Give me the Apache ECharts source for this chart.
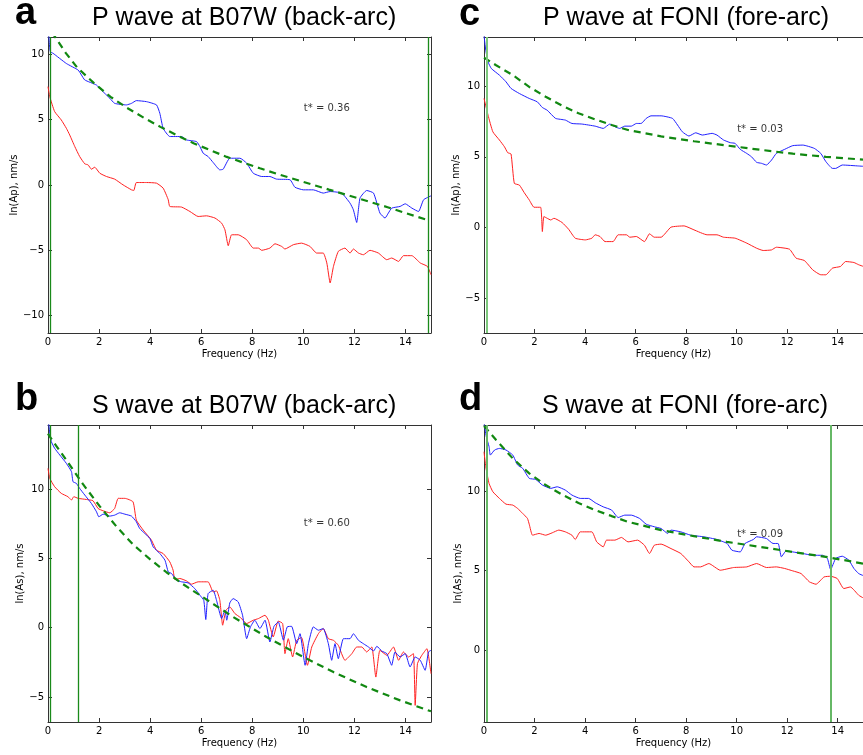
<!DOCTYPE html>
<html>
<head>
<meta charset="utf-8">
<script src="https://cdn.jsdelivr.net/npm/echarts@6/dist/echarts.min.js"></script>
<style>
html,body{margin:0;padding:0;background:#fff;}
#chart{width:863px;height:755px;}
</style>
</head>
<body>
<div id="chart"></div>
<script>
// ---------- DATA ----------
const xTicks = [0, 2, 4, 6, 8, 10, 12, 14];
const yTicksA = [-10, -5, 0, 5, 10];
const yTicksB = [-5, 0, 5, 10];
const yTicksC = [-5, 0, 5, 10];
const yTicksD = [0, 5, 10];

const titles = ['P wave at B07W (back-arc)', 'P wave at FONI (fore-arc)', 'S wave at B07W (back-arc)', 'S wave at FONI (fore-arc)'];
const letters = ['a', 'c', 'b', 'd'];
const yNames = ['ln(Ap), nm/s', 'ln(Ap), nm/s', 'ln(As), nm/s', 'ln(As), nm/s'];
const tstarText = ['t* = 0.36', 't* = 0.03', 't* = 0.60', 't* = 0.09'];
const tstarPos = [[10, 5.9], [10, 6.96], [10, 7.52], [10, 7.28]];
const vLinesA = [0.1, 14.9];
const vLinesC = [0.1];
const vLinesB = [0.1, 1.18];
const vLinesD = [0.1, 13.73];

// Panel a: P wave at B07W
const aBlue = [[0,12.5],[0.05,10.9],[0.09,10.2],[0.2,10.08],[0.72,9.3],[1.18,8.8],[1.31,8.42],[1.44,8.04],[1.9,7.65],[2.09,7.27],[2.42,6.64],[2.61,6.25],[3.07,6.13],[3.27,6.25],[3.46,6.46],[3.86,6.38],[4.25,6.13],[4.38,5.49],[4.51,4.34],[4.77,3.71],[5.23,3.71],[5.42,3.45],[5.82,3.32],[5.95,2.94],[6.08,2.43],[6.27,2.18],[6.47,1.72],[6.73,1.16],[6.86,1.21],[7.12,2.05],[7.52,2.05],[7.78,1.67],[8.04,0.9],[8.37,0.65],[8.69,0.65],[8.95,0.45],[9.48,0.4],[9.67,-0.17],[10.0,-0.37],[10.39,-0.37],[10.78,-0.62],[11.05,-0.5],[11.5,-0.62],[11.83,-1.39],[11.96,-1.9],[12.09,-2.87],[12.22,-1.0],[12.48,-0.42],[12.75,-0.62],[13.0,-2.15],[13.2,-2.53],[13.33,-2.15],[13.46,-1.77],[13.79,-1.64],[13.99,-1.44],[14.25,-1.77],[14.51,-2.03],[14.71,-1.13],[15.0,-0.83]];
const aRed = [[0,7.53],[0.07,6.76],[0.26,5.62],[0.52,4.98],[0.72,4.34],[0.85,3.83],[1.05,2.94],[1.24,2.18],[1.44,1.62],[1.57,1.54],[1.7,1.21],[1.83,1.36],[2.03,0.9],[2.29,0.65],[2.61,0.45],[2.94,0.01],[3.27,-0.37],[3.36,-0.42],[3.46,0.19],[3.86,0.19],[4.25,0.14],[4.51,-0.24],[4.71,-1.13],[4.77,-1.64],[5.23,-1.69],[5.56,-2.03],[5.88,-2.41],[6.21,-2.36],[6.54,-2.53],[6.8,-2.92],[6.93,-3.43],[7.06,-4.65],[7.19,-3.81],[7.45,-3.81],[7.78,-4.19],[8.04,-4.83],[8.24,-4.83],[8.37,-5.0],[8.69,-4.83],[8.89,-4.5],[9.15,-4.7],[9.28,-4.9],[9.61,-4.57],[9.93,-4.45],[10.26,-4.7],[10.52,-5.21],[10.78,-5.21],[10.92,-5.97],[11.05,-7.5],[11.18,-6.23],[11.37,-5.08],[11.63,-4.83],[11.83,-5.21],[11.96,-4.9],[12.16,-5.21],[12.35,-5.34],[12.61,-5.0],[12.94,-5.21],[13.27,-5.72],[13.46,-5.59],[13.73,-5.85],[13.92,-5.41],[14.25,-5.41],[14.58,-5.97],[14.86,-6.23],[15.0,-6.87]];
const aFit = [[0.15,11.7],[0.29,11.3],[0.7,10.1],[1.14,9.0],[1.8,7.8],[2.45,6.75],[3.1,5.9],[3.75,5.15],[4.4,4.45],[5.06,3.8],[5.7,3.2],[6.37,2.65],[7.0,2.15],[7.67,1.7],[8.3,1.28],[9.0,0.83],[9.98,0.25],[11.0,-0.35],[11.8,-0.82],[12.59,-1.28],[13.3,-1.7],[14.0,-2.15],[14.94,-2.72]];

// Panel c: P wave at FONI
const cBlue = [[0,13.6],[0.07,12.54],[0.16,11.72],[0.29,11.25],[0.61,10.78],[0.87,10.31],[1.07,9.84],[1.4,9.48],[1.79,9.13],[2.11,8.89],[2.31,8.49],[2.5,8.3],[2.83,7.72],[3.22,7.6],[3.48,7.36],[3.87,7.32],[4.4,7.17],[4.72,7.01],[4.98,7.32],[5.18,7.13],[5.37,7.01],[5.57,7.17],[5.83,7.17],[6.03,7.36],[6.22,7.36],[6.42,7.72],[6.61,7.9],[7.01,7.9],[7.46,7.72],[7.66,7.25],[7.85,6.77],[8.11,6.47],[8.38,6.7],[8.64,6.54],[9.03,6.66],[9.22,6.54],[9.48,6.19],[9.75,6.0],[9.94,5.95],[10.14,5.53],[10.4,5.24],[10.59,5.0],[10.79,4.61],[10.98,4.54],[11.18,4.42],[11.38,4.77],[11.57,5.24],[11.9,5.53],[12.22,5.79],[12.62,5.83],[13.07,5.6],[13.33,5.24],[13.53,4.66],[13.79,4.18],[13.92,4.18],[14.18,4.42],[14.83,4.35],[15,4.33]];
const cRed = [[0,9.13],[0.16,7.95],[0.35,6.77],[0.61,6.19],[0.81,5.71],[0.94,5.29],[1.07,5.2],[1.2,3.12],[1.4,3.0],[1.59,2.47],[1.79,1.95],[1.98,1.43],[2.24,1.43],[2.31,-0.29],[2.37,0.77],[2.5,0.65],[2.64,0.53],[2.77,0.65],[3.09,0.35],[3.35,-0.13],[3.61,-0.76],[4.01,-0.88],[4.27,-0.76],[4.4,-0.52],[4.59,-0.64],[4.79,-1.0],[5.11,-1.0],[5.31,-0.52],[5.64,-0.52],[5.77,-0.69],[6.03,-0.64],[6.35,-1.0],[6.55,-0.45],[6.74,-0.69],[7.01,-0.69],[7.4,0.02],[7.92,0.11],[8.31,-0.17],[8.83,-0.52],[9.22,-0.52],[9.48,-0.69],[9.94,-0.76],[10.4,-1.11],[10.79,-1.47],[11.05,-1.63],[11.38,-1.59],[11.57,-1.4],[12.09,-1.54],[12.35,-2.17],[12.68,-2.34],[13.01,-3.0],[13.33,-3.35],[13.53,-3.35],[13.79,-2.88],[14.11,-2.76],[14.31,-2.41],[14.64,-2.48],[14.83,-2.64],[15,-2.75]];
const cFit = [[0,12.02],[0.48,11.48],[1.14,10.78],[1.79,9.95],[2.44,9.25],[3.09,8.62],[3.74,8.08],[4.4,7.65],[5.05,7.25],[5.7,6.9],[7.01,6.45],[8.31,6.1],[9.61,5.8],[10.92,5.5],[12.22,5.22],[13.53,5.0],[15,4.8]];

// Panel b: S wave at B07W
const bBlue = [[0,15.2],[0.07,14.02],[0.13,13.42],[0.26,12.94],[0.46,12.46],[0.72,11.85],[0.92,11.25],[0.98,10.53],[1.11,10.41],[1.24,10.05],[1.44,9.57],[1.7,8.96],[1.9,8.36],[1.99,8.0],[2.16,8.19],[2.42,8.05],[2.61,8.12],[2.81,8.29],[3.01,8.19],[3.27,8.05],[3.46,7.64],[3.59,7.16],[3.79,6.8],[3.99,6.44],[4.12,5.83],[4.38,5.35],[4.58,4.87],[4.71,4.03],[4.84,3.91],[5.03,3.43],[5.23,3.31],[5.49,3.23],[5.75,2.82],[5.95,2.34],[6.1,1.98],[6.18,0.59],[6.27,2.46],[6.47,2.7],[6.6,1.98],[6.8,0.66],[6.93,1.26],[7.0,0.54],[7.12,1.79],[7.25,2.1],[7.45,1.86],[7.62,0.9],[7.78,-0.79],[7.93,0.06],[8.1,0.54],[8.3,-0.06],[8.5,0.54],[8.69,-1.03],[8.85,0.1],[9.02,0.42],[9.22,-0.9],[9.37,0.06],[9.54,0.1],[9.74,-1.15],[9.87,-0.43],[10.07,-2.71],[10.2,-1.15],[10.39,0.06],[10.59,-0.18],[10.78,-0.06],[10.98,-1.15],[11.11,-2.35],[11.24,-1.15],[11.37,-2.23],[11.57,-0.79],[11.83,-0.79],[11.96,-0.43],[12.16,-0.91],[12.35,-1.15],[12.55,-1.39],[12.75,-1.68],[12.88,-1.34],[13.07,-1.68],[13.27,-1.87],[13.46,-2.71],[13.59,-1.75],[13.79,-2.11],[13.99,-1.87],[14.18,-2.83],[14.38,-2.11],[14.58,-2.35],[14.77,-3.07],[14.9,-1.75],[15.0,-1.63]];
const bRed = [[0,11.49],[0.07,10.77],[0.26,10.17],[0.52,9.69],[0.78,9.45],[0.92,9.21],[1.01,9.45],[1.18,9.33],[1.5,9.25],[1.76,9.16],[1.96,8.6],[2.16,8.43],[2.42,8.29],[2.61,8.6],[2.75,9.33],[3.01,9.33],[3.33,9.08],[3.46,7.76],[3.73,7.04],[4.05,6.32],[4.25,5.59],[4.51,5.35],[4.77,4.75],[4.9,4.15],[4.97,3.47],[5.16,3.55],[5.42,3.38],[5.62,3.14],[5.88,3.31],[6.27,3.31],[6.47,2.58],[6.6,2.66],[6.73,1.98],[6.84,0.18],[6.97,1.26],[7.12,1.5],[7.32,1.02],[7.54,0.73],[7.78,0.3],[8.04,0.54],[8.24,0.66],[8.5,0.9],[8.63,0.54],[8.82,-0.67],[9.02,0.48],[9.19,0.3],[9.28,-1.87],[9.41,-0.79],[9.58,-2.11],[9.74,-0.91],[9.93,-0.71],[10.16,-2.71],[10.33,-1.39],[10.59,-0.43],[10.78,-0.06],[10.98,-0.79],[11.18,-0.91],[11.37,-1.27],[11.63,-2.35],[11.9,-1.87],[12.09,-1.39],[12.29,-1.39],[12.48,-1.75],[12.68,-1.39],[12.84,-3.56],[13.0,-1.63],[13.27,-1.99],[13.53,-1.39],[13.73,-2.35],[13.92,-1.75],[14.12,-2.11],[14.31,-1.87],[14.38,-5.6],[14.47,-2.59],[14.64,-1.99],[14.84,-1.51],[15.0,-3.32]];
const bFit = [[0,14.0],[0.07,13.78],[0.72,12.09],[1.37,10.35],[2.03,8.75],[2.68,7.3],[3.33,6.0],[3.99,4.95],[4.64,4.0],[5.29,3.14],[5.95,2.34],[7.25,0.78],[8.56,-0.67],[9.87,-1.99],[11.18,-3.2],[12.48,-4.28],[13.79,-5.24],[15,-6.03]];

// Panel d: S wave at FONI
const dBlue = [[0,14.3],[0.09,13.42],[0.2,12.79],[0.25,12.26],[0.42,12.58],[0.61,12.68],[0.87,12.58],[1.14,12.26],[1.33,11.64],[1.53,11.43],[1.79,10.8],[2.05,10.73],[2.31,10.38],[2.64,10.17],[2.9,10.27],[3.22,10.06],[3.48,9.75],[3.81,9.54],[4.14,9.54],[4.4,9.27],[4.72,9.01],[5.05,8.81],[5.31,8.34],[5.57,8.49],[5.83,8.49],[6.16,8.28],[6.42,7.92],[6.74,7.76],[7.01,7.65],[7.27,7.34],[7.4,7.55],[7.79,7.44],[8.18,7.23],[8.7,7.13],[9.22,6.96],[9.62,6.71],[9.81,6.29],[10.14,6.18],[10.33,6.71],[10.66,6.96],[10.79,7.13],[11.18,7.02],[11.44,6.71],[11.64,6.71],[11.77,5.87],[11.96,6.25],[12.22,6.18],[12.62,6.08],[13.01,5.97],[13.4,5.97],[13.59,5.77],[13.72,5.07],[13.92,5.77],[14.18,5.91],[14.44,5.66],[14.64,5.14],[14.83,4.82],[15,4.7]];
const dRed = [[0,12.47],[0.07,11.53],[0.2,10.48],[0.35,9.96],[0.61,9.54],[0.87,9.18],[1.14,9.12],[1.33,8.91],[1.53,8.6],[1.72,8.28],[1.79,7.92],[1.92,7.23],[2.18,7.34],[2.44,7.23],[2.7,7.38],[2.96,7.55],[3.22,7.44],[3.48,7.23],[3.61,6.96],[3.81,7.44],[4.27,7.44],[4.46,6.81],[4.72,6.5],[4.85,6.92],[5.18,6.92],[5.44,7.09],[5.7,6.81],[6.08,6.92],[6.35,6.6],[6.55,6.08],[6.74,6.6],[7.01,6.67],[7.4,6.39],[7.79,6.08],[8.11,5.56],[8.31,5.24],[8.57,5.24],[8.9,5.45],[9.35,5.03],[9.88,5.2],[10.4,5.24],[10.79,5.45],[11.18,5.2],[11.57,5.24],[11.9,5.14],[12.22,4.99],[12.55,4.82],[12.88,4.3],[13.14,4.15],[13.46,4.61],[13.72,4.65],[13.98,4.51],[14.24,3.88],[14.5,3.98],[14.83,3.46],[15,3.3]];
const dFit = [[0,14.09],[0.48,13.21],[1.14,12.05],[1.79,11.11],[2.44,10.38],[3.09,9.78],[3.74,9.25],[4.4,8.81],[5.05,8.43],[5.7,8.07],[7.01,7.55],[8.31,7.17],[9.61,6.81],[10.92,6.5],[12.22,6.18],[13.53,5.87],[15,5.45]];

// ---------- BUILD ----------
const panels = [
  {blue: aBlue, red: aRed, fit: aFit, yTicks: yTicksA, yMin: -11.33, yMax: 11.33, vlines: vLinesA, vColor: '#1a8a1a', nameGap: 27, rightTicks: true,
   grid: {left: 48, top: 37, width: 383, height: 296}},
  {blue: cBlue, red: cRed, fit: cFit, yTicks: yTicksC, yMin: -7.47, yMax: 13.48, vlines: vLinesC, vColor: '#7cc87c', nameGap: 21, rightTicks: false,
   grid: {left: 484, top: 37, width: 383, height: 296}},
  {blue: bBlue, red: bRed, fit: bFit, yTicks: yTicksB, yMin: -6.8, yMax: 14.62, vlines: vLinesB, vColor: '#1a8a1a', nameGap: 21, rightTicks: true,
   grid: {left: 48, top: 425, width: 383, height: 297}},
  {blue: dBlue, red: dRed, fit: dFit, yTicks: yTicksD, yMin: -4.5, yMax: 14.15, vlines: vLinesD, vColor: '#66b866', nameGap: 18, rightTicks: false,
   grid: {left: 484, top: 425, width: 383, height: 297}}
];

function fmt(v) { return v < 0 ? '\u2212' + Math.abs(v) : String(v); }
const tickFont = {fontFamily: 'DejaVu Sans', fontSize: 10, color: '#000'};
const axLine = {show: true, onZero: false, lineStyle: {color: '#333', width: 1}};

const grid = [], xAxis = [], yAxis = [], series = [], graphic = [];

panels.forEach((p, i) => {
  grid.push(Object.assign({containLabel: false}, p.grid));
  const xb = xAxis.length;
  xAxis.push({
    type: 'value', gridIndex: i, min: 0, max: 15, position: 'bottom',
    axisLine: axLine, splitLine: {show: false},
    axisTick: {show: true, inside: true, length: 4, lineStyle: {color: '#333'}, customValues: xTicks},
    axisLabel: Object.assign({margin: 4, customValues: xTicks, formatter: fmt}, tickFont),
    name: 'Frequency (Hz)', nameLocation: 'middle', nameGap: 16,
    nameTextStyle: tickFont
  });
  xAxis.push({
    type: 'value', gridIndex: i, min: 0, max: 15, position: 'top',
    axisLine: axLine, splitLine: {show: false},
    axisTick: {show: true, inside: true, length: 4, lineStyle: {color: '#333'}, customValues: xTicks},
    axisLabel: {show: false}
  });
  const yb = yAxis.length;
  yAxis.push({
    type: 'value', gridIndex: i, min: p.yMin, max: p.yMax, position: 'left',
    axisLine: axLine, splitLine: {show: false},
    axisTick: {show: true, inside: true, length: 4, lineStyle: {color: '#333'}, customValues: p.yTicks},
    axisLabel: Object.assign({margin: 4, customValues: p.yTicks, formatter: fmt}, tickFont),
    name: yNames[i], nameLocation: 'middle', nameGap: p.nameGap, nameRotate: 90,
    nameTextStyle: tickFont
  });
  yAxis.push({
    type: 'value', gridIndex: i, min: p.yMin, max: p.yMax, position: 'right',
    axisLine: axLine, splitLine: {show: false},
    axisTick: {show: p.rightTicks, inside: true, length: 4, lineStyle: {color: '#333'}, customValues: p.yTicks},
    axisLabel: {show: false}
  });

  series.push({
    type: 'line', xAxisIndex: xb, yAxisIndex: yb, data: p.red, showSymbol: false, symbol: 'none',
    lineStyle: {color: '#ff2020', width: 1}, smooth: 0.15, clip: true, silent: true, z: 2,
    markLine: {
      silent: true, symbol: 'none', label: {show: false},
      lineStyle: {color: p.vColor, width: (i % 2 === 1) ? 2 : 1.3, type: 'solid'},
      data: p.vlines.map(v => ({xAxis: v}))
    }
  });
  series.push({
    type: 'line', xAxisIndex: xb, yAxisIndex: yb, data: p.blue, showSymbol: false, symbol: 'none',
    lineStyle: {color: '#2020ff', width: 1}, smooth: 0.15, clip: true, silent: true, z: 3
  });
  series.push({
    type: 'line', xAxisIndex: xb, yAxisIndex: yb, data: p.fit, showSymbol: false, symbol: 'none',
    lineStyle: {color: '#118811', width: 2.2, type: [7, 5]}, smooth: false, clip: true, silent: true, z: 4
  });
  series.push({
    type: 'scatter', xAxisIndex: xb, yAxisIndex: yb, data: [tstarPos[i]], symbolSize: 1,
    itemStyle: {color: 'rgba(0,0,0,0)'}, silent: true, z: 5,
    label: {show: true, position: 'right', distance: 0, formatter: tstarText[i],
      fontFamily: 'DejaVu Sans', fontSize: 10, color: '#000'}
  });
});

const titlePos = [[92, 18.3], [543, 18.3], [92, 406.3], [542, 406.3]];
const letterPos = [[15, 13.8], [459, 14.5], [15, 399.8], [459, 399.2]];
titles.forEach((t, i) => {
  graphic.push({type: 'text', left: titlePos[i][0], top: titlePos[i][1] - 12.5, z: 100,
    style: {text: t, fontFamily: 'Liberation Sans, Arial', fontSize: 25, fill: '#000'}});
  graphic.push({type: 'text', left: letterPos[i][0], top: letterPos[i][1] - 19, z: 100,
    style: {text: letters[i], fontFamily: 'Liberation Sans, Arial', fontWeight: 'bold', fontSize: 38, fill: '#000'}});
});

const chart = echarts.init(document.getElementById('chart'), null, {renderer: 'canvas'});
chart.setOption({
  backgroundColor: '#fff',
  animation: false,
  grid, xAxis, yAxis, series, graphic
});
</script>
</body>
</html>
